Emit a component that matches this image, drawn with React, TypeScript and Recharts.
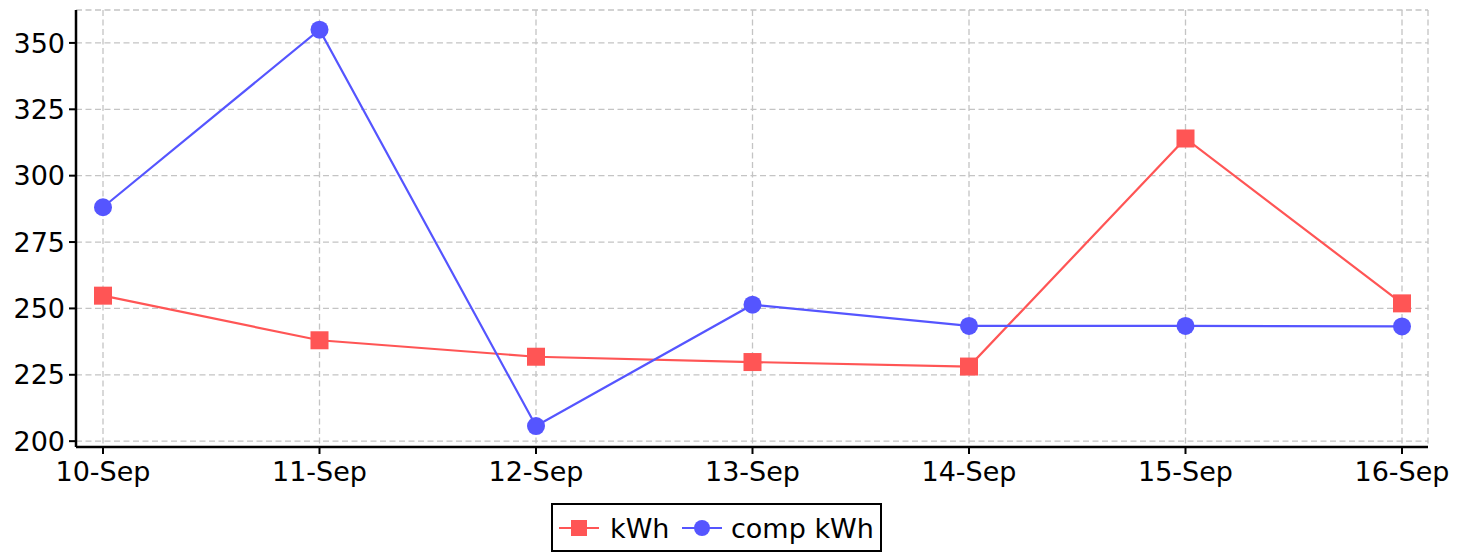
import React from 'react';
import { LineChart, Line, XAxis, YAxis, CartesianGrid } from 'recharts';

const categories = ['10-Sep', '11-Sep', '12-Sep', '13-Sep', '14-Sep', '15-Sep', '16-Sep'];
const kwhValues = [254.8, 238.0, 231.8, 229.8, 228.1, 314.0, 251.9];
const compValues = [288.1, 355.0, 205.7, 251.4, 243.4, 243.4, 243.2];
const yTicks = [200, 225, 250, 275, 300, 325, 350];

const data = categories.map((c, i) => ({ day: c, kwh: kwhValues[i], comp: compValues[i] }));

const RED = '#ff5555';
const BLUE = '#5555ff';
const FONT = '"DejaVu Sans", sans-serif';
const FS = 27;

const SquareDot = (props: any) => {
  const { cx, cy, index } = props;
  if (cx == null || cy == null) return <g key={`s${index}`} />;
  return <rect key={`s${index}`} x={cx - 9} y={cy - 9} width={18} height={18} fill={RED} />;
};

const CircleDot = (props: any) => {
  const { cx, cy, index } = props;
  if (cx == null || cy == null) return <g key={`c${index}`} />;
  return <circle key={`c${index}`} cx={cx} cy={cy} r={9} fill={BLUE} />;
};

const LegendBox = () => (
  <div
    style={{
      position: 'absolute',
      left: 543,
      top: 495,
      width: 327,
      height: 45,
      border: '2px solid #000',
      background: '#fff',
    }}
  >
    <svg width={327} height={45} style={{ display: 'block' }}>
      <line x1={6} y1={23} x2={46} y2={23} stroke={RED} strokeWidth={2} />
      <rect x={18} y={15} width={16} height={16} fill={RED} />
      <text x={57} y={33} fontFamily={FONT} fontSize={FS} fill="#000">kWh</text>
      <line x1={129} y1={23} x2={169} y2={23} stroke={BLUE} strokeWidth={2} />
      <circle cx={149} cy={23} r={8} fill={BLUE} />
      <text x={178} y={33} fontFamily={FONT} fontSize={FS} fill="#000">comp kWh</text>
    </svg>
  </div>
);

export default function App() {
  return (
    <div style={{ width: 1460, height: 546, position: 'relative' }}>
      <LineChart
        width={1460}
        height={546}
        data={data}
        margin={{ top: 2, right: 40, bottom: 0, left: 0 }}
      >
        <CartesianGrid stroke="#c4c4c4" strokeDasharray="6 3.5" strokeWidth={1.3} vertical horizontal />
        <XAxis
          dataKey="day"
          height={107}
          padding={{ left: 27, right: 26 }}
          axisLine={{ stroke: '#000', strokeWidth: 2.5 }}
          tickLine={{ stroke: '#000', strokeWidth: 2 }}
          tickSize={7}
          tickMargin={8}
          tick={{ fill: '#000', fontSize: FS, fontFamily: FONT }}
          interval={0}
        />
        <YAxis
          width={68}
          domain={[197.8, 362.4]}
          ticks={yTicks}
          allowDataOverflow
          axisLine={{ stroke: '#000', strokeWidth: 2.5 }}
          tickLine={{ stroke: '#000', strokeWidth: 2 }}
          tickSize={7}
          tickMargin={4}
          tick={{ fill: '#000', fontSize: FS, fontFamily: FONT }}
        />
        <Line
          type="linear"
          dataKey="kwh"
          name="kWh"
          stroke={RED}
          strokeWidth={2.2}
          dot={SquareDot}
          activeDot={false}
          isAnimationActive={false}
        />
        <Line
          type="linear"
          dataKey="comp"
          name="comp kWh"
          stroke={BLUE}
          strokeWidth={2.2}
          dot={CircleDot}
          activeDot={false}
          isAnimationActive={false}
        />
      </LineChart>
      <LegendBox />
    </div>
  );
}
